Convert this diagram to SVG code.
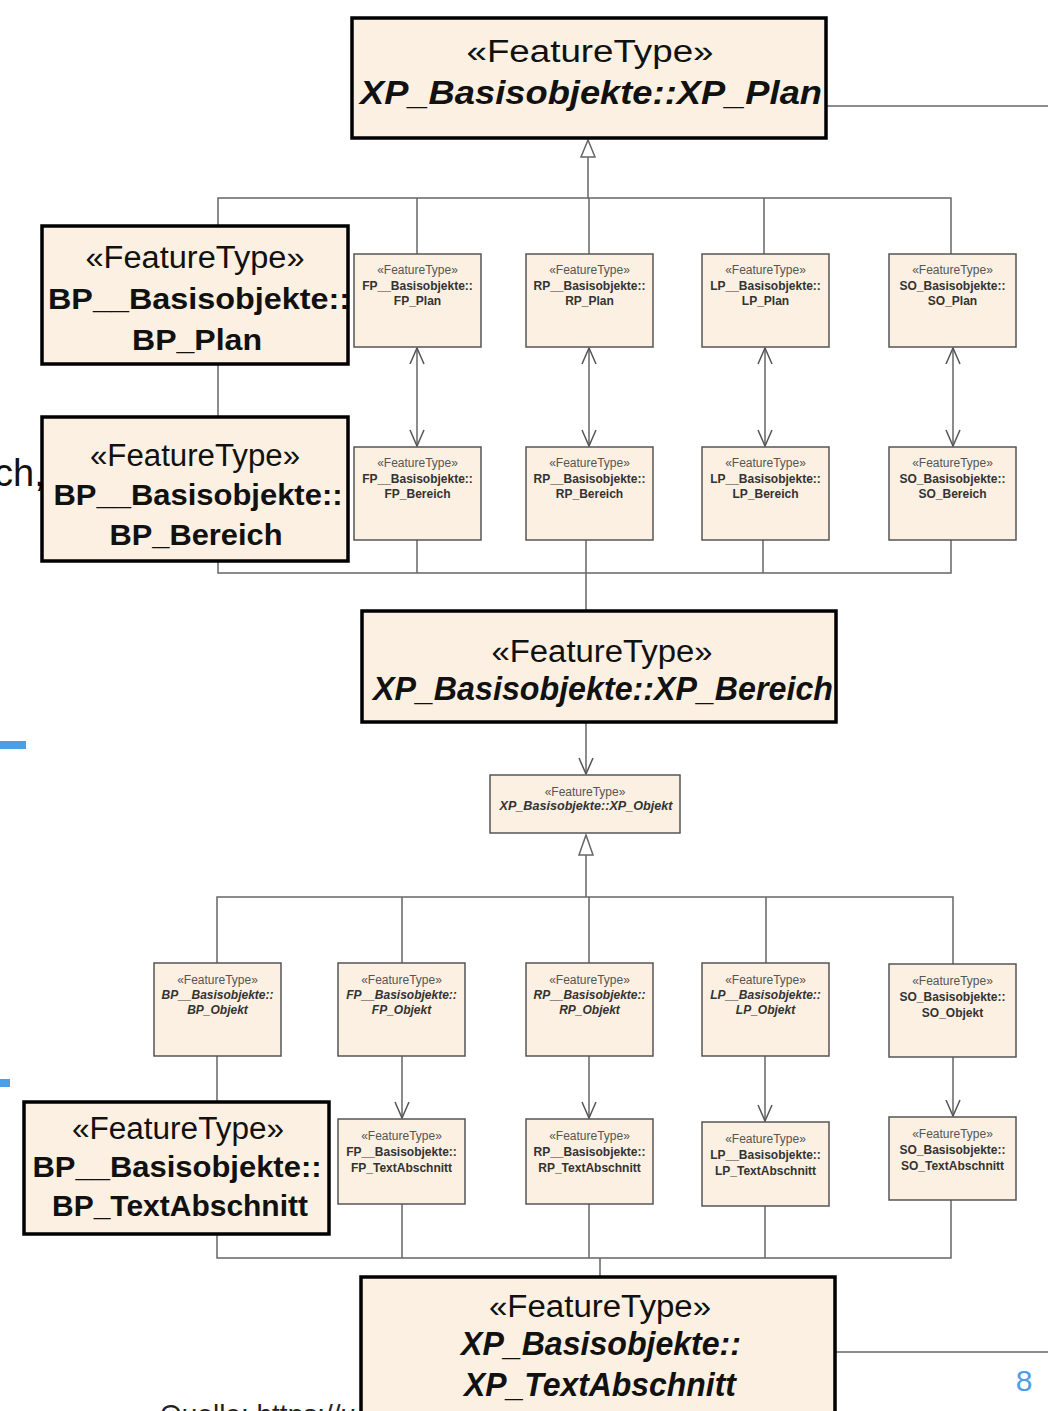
<svg xmlns="http://www.w3.org/2000/svg" width="1048" height="1411" viewBox="0 0 1048 1411">
<style>
.big{fill:#FBF0E1;stroke:#000;stroke-width:3.5}
.sm{fill:#FBF0E1;stroke:#555;stroke-width:1.5}
.st{font-family:"Liberation Sans",Arial,sans-serif;font-size:12px;fill:#555;text-anchor:middle}
.nm{font-family:"Liberation Sans",Arial,sans-serif;font-size:12px;font-weight:bold;fill:#333;text-anchor:middle}
.it{font-style:italic}
.bst{font-family:"Liberation Sans",Arial,sans-serif;font-size:31px;fill:#111;text-anchor:middle}
.bnm{font-family:"Liberation Sans",Arial,sans-serif;font-size:30px;font-weight:bold;fill:#111;text-anchor:middle}
.bit{font-style:italic;font-size:33px}
.ln{fill:none;stroke:#666;stroke-width:1.5}
.arr{fill:none;stroke:#666;stroke-width:1.5;marker-end:url(#open)}
.arr2{fill:none;stroke:#666;stroke-width:1.5;marker-end:url(#open);marker-start:url(#open)}
.tri{fill:#fff;stroke:#666;stroke-width:1.5}
</style>
<defs>
<marker id="open" viewBox="0 0 18 16" refX="17" refY="8" markerWidth="18" markerHeight="16" markerUnits="userSpaceOnUse" orient="auto-start-reverse">
<path d="M1,1 L17,8 L1,15" fill="none" stroke="#555" stroke-width="1.5"/>
</marker>
</defs>
<rect width="1048" height="1411" fill="#fff"/>

<!-- background slide elements -->
<text x="-6" y="486" font-family="Liberation Sans,Arial,sans-serif" font-size="38" fill="#111">ch,</text>
<rect x="0" y="741" width="26" height="8" fill="#4A9FE8"/>
<rect x="0" y="1079" width="10" height="8" fill="#4A9FE8"/>
<text x="160" y="1424" font-family="Liberation Sans,Arial,sans-serif" font-size="28" fill="#222">Quelle: https://u</text>
<text x="1024" y="1391" font-family="Liberation Sans,Arial,sans-serif" font-size="30" fill="#4A9FE8" text-anchor="middle">8</text>

<g id="connectors">
<line class="ln" x1="826" y1="106" x2="1048" y2="106"/>
<line class="ln" x1="835" y1="1352" x2="1048" y2="1352"/>
<!-- generalization to XP_Plan -->
<polyline class="ln" points="588,157 588,198"/>
<polyline class="ln" points="218,226 218,198 951,198 951,254"/>
<line class="ln" x1="417" y1="198" x2="417" y2="254"/>
<line class="ln" x1="589" y1="198" x2="589" y2="254"/>
<line class="ln" x1="764" y1="198" x2="764" y2="254"/>
<polygon class="tri" points="588,140 581,157 595,157"/>
<!-- plan <-> bereich -->
<line class="arr2" x1="417" y1="348" x2="417" y2="446"/>
<line class="arr2" x1="589" y1="348" x2="589" y2="446"/>
<line class="arr2" x1="765" y1="348" x2="765" y2="446"/>
<line class="arr2" x1="953" y1="348" x2="953" y2="446"/>
<line class="ln" x1="218" y1="364" x2="218" y2="417"/>
<!-- bereich to XP_Bereich -->
<polyline class="ln" points="218,561 218,573 951,573 951,540"/>
<line class="ln" x1="417" y1="540" x2="417" y2="573"/>
<line class="ln" x1="586" y1="540" x2="586" y2="611"/>
<line class="ln" x1="763" y1="540" x2="763" y2="573"/>
<!-- XP_Bereich to XP_Objekt -->
<line class="arr" x1="586" y1="722" x2="586" y2="774"/>
<!-- generalization to XP_Objekt -->
<line class="ln" x1="586" y1="855" x2="586" y2="897"/>
<polyline class="ln" points="217,963 217,897 953,897 953,964"/>
<line class="ln" x1="402" y1="897" x2="402" y2="963"/>
<line class="ln" x1="589" y1="897" x2="589" y2="963"/>
<line class="ln" x1="766" y1="897" x2="766" y2="963"/>
<polygon class="tri" points="586,835 579,855 593,855"/>
<!-- objekt to textabschnitt -->
<line class="ln" x1="217" y1="1056" x2="217" y2="1102"/>
<line class="arr" x1="402" y1="1056" x2="402" y2="1118"/>
<line class="arr" x1="589" y1="1056" x2="589" y2="1118"/>
<line class="arr" x1="765" y1="1056" x2="765" y2="1121"/>
<line class="arr" x1="953" y1="1057" x2="953" y2="1116"/>
<!-- textabschnitt to XP_TextAbschnitt -->
<polyline class="ln" points="217,1234 217,1258 951,1258 951,1200"/>
<line class="ln" x1="402" y1="1204" x2="402" y2="1258"/>
<line class="ln" x1="589" y1="1204" x2="589" y2="1258"/>
<line class="ln" x1="765" y1="1206" x2="765" y2="1258"/>
<line class="ln" x1="600" y1="1258" x2="600" y2="1277"/>
</g>

<g id="XP_Plan">
<rect class="big" x="352" y="18" width="474" height="120"/>
<text class="bst" x="590" y="62" font-size="34" textLength="247" lengthAdjust="spacingAndGlyphs">«FeatureType»</text>
<text class="bnm bit" x="591" y="104" textLength="462" lengthAdjust="spacingAndGlyphs">XP_Basisobjekte::XP_Plan</text>
</g>

<g id="FP_Plan"><rect class="sm" x="354" y="254" width="127" height="93"/>
<text class="st" x="417.5" y="274">«FeatureType»</text><text class="nm" x="417.5" y="290">FP__Basisobjekte::</text><text class="nm" x="417.5" y="305">FP_Plan</text></g>
<g id="RP_Plan"><rect class="sm" x="526" y="254" width="127" height="93"/>
<text class="st" x="589.5" y="274">«FeatureType»</text><text class="nm" x="589.5" y="290">RP__Basisobjekte::</text><text class="nm" x="589.5" y="305">RP_Plan</text></g>
<g id="LP_Plan"><rect class="sm" x="702" y="254" width="127" height="93"/>
<text class="st" x="765.5" y="274">«FeatureType»</text><text class="nm" x="765.5" y="290">LP__Basisobjekte::</text><text class="nm" x="765.5" y="305">LP_Plan</text></g>
<g id="SO_Plan"><rect class="sm" x="889" y="254" width="127" height="93"/>
<text class="st" x="952.5" y="274">«FeatureType»</text><text class="nm" x="952.5" y="290">SO_Basisobjekte::</text><text class="nm" x="952.5" y="305">SO_Plan</text></g>

<g id="FP_Bereich"><rect class="sm" x="354" y="447" width="127" height="93"/>
<text class="st" x="417.5" y="467">«FeatureType»</text><text class="nm" x="417.5" y="483">FP__Basisobjekte::</text><text class="nm" x="417.5" y="498">FP_Bereich</text></g>
<g id="RP_Bereich"><rect class="sm" x="526" y="447" width="127" height="93"/>
<text class="st" x="589.5" y="467">«FeatureType»</text><text class="nm" x="589.5" y="483">RP__Basisobjekte::</text><text class="nm" x="589.5" y="498">RP_Bereich</text></g>
<g id="LP_Bereich"><rect class="sm" x="702" y="447" width="127" height="93"/>
<text class="st" x="765.5" y="467">«FeatureType»</text><text class="nm" x="765.5" y="483">LP__Basisobjekte::</text><text class="nm" x="765.5" y="498">LP_Bereich</text></g>
<g id="SO_Bereich"><rect class="sm" x="889" y="447" width="127" height="93"/>
<text class="st" x="952.5" y="467">«FeatureType»</text><text class="nm" x="952.5" y="483">SO_Basisobjekte::</text><text class="nm" x="952.5" y="498">SO_Bereich</text></g>

<g id="BP_Plan">
<rect class="big" x="42" y="226" width="306" height="138"/>
<text class="bst" x="195" y="268" textLength="219" lengthAdjust="spacingAndGlyphs">«FeatureType»</text>
<text class="bnm" x="48" y="309" style="text-anchor:start" textLength="302" lengthAdjust="spacingAndGlyphs">BP__Basisobjekte::</text>
<text class="bnm" x="197" y="350" textLength="130" lengthAdjust="spacingAndGlyphs">BP_Plan</text>
</g>
<g id="BP_Bereich">
<rect class="big" x="42" y="417" width="306" height="144"/>
<text class="bst" x="195" y="466" textLength="210" lengthAdjust="spacingAndGlyphs">«FeatureType»</text>
<text class="bnm" x="198" y="505" textLength="289" lengthAdjust="spacingAndGlyphs">BP__Basisobjekte::</text>
<text class="bnm" x="196" y="545" textLength="173" lengthAdjust="spacingAndGlyphs">BP_Bereich</text>
</g>

<g id="XP_Bereich">
<rect class="big" x="362" y="611" width="474" height="111"/>
<text class="bst" x="602" y="662" textLength="221" lengthAdjust="spacingAndGlyphs">«FeatureType»</text>
<text class="bnm bit" x="603" y="700" textLength="460" lengthAdjust="spacingAndGlyphs">XP_Basisobjekte::XP_Bereich</text>
</g>

<g id="XP_Objekt"><rect class="sm" x="490" y="775" width="190" height="58"/>
<text class="st" x="585" y="796">«FeatureType»</text><text class="nm it" x="586" y="810" textLength="173" lengthAdjust="spacingAndGlyphs">XP_Basisobjekte::XP_Objekt</text></g>

<g id="BP_Objekt"><rect class="sm" x="154" y="963" width="127" height="93"/>
<text class="st" x="217.5" y="984">«FeatureType»</text><text class="nm it" x="217.5" y="999">BP__Basisobjekte::</text><text class="nm it" x="217.5" y="1014">BP_Objekt</text></g>
<g id="FP_Objekt"><rect class="sm" x="338" y="963" width="127" height="93"/>
<text class="st" x="401.5" y="984">«FeatureType»</text><text class="nm it" x="401.5" y="999">FP__Basisobjekte::</text><text class="nm it" x="401.5" y="1014">FP_Objekt</text></g>
<g id="RP_Objekt"><rect class="sm" x="526" y="963" width="127" height="93"/>
<text class="st" x="589.5" y="984">«FeatureType»</text><text class="nm it" x="589.5" y="999">RP__Basisobjekte::</text><text class="nm it" x="589.5" y="1014">RP_Objekt</text></g>
<g id="LP_Objekt"><rect class="sm" x="702" y="963" width="127" height="93"/>
<text class="st" x="765.5" y="984">«FeatureType»</text><text class="nm it" x="765.5" y="999">LP__Basisobjekte::</text><text class="nm it" x="765.5" y="1014">LP_Objekt</text></g>
<g id="SO_Objekt"><rect class="sm" x="889" y="964" width="127" height="93"/>
<text class="st" x="952.5" y="985">«FeatureType»</text><text class="nm" x="952.5" y="1001">SO_Basisobjekte::</text><text class="nm" x="952.5" y="1017">SO_Objekt</text></g>

<g id="FP_TextAbschnitt"><rect class="sm" x="338" y="1119" width="127" height="85"/>
<text class="st" x="401.5" y="1140">«FeatureType»</text><text class="nm" x="401.5" y="1156">FP__Basisobjekte::</text><text class="nm" x="401.5" y="1172">FP_TextAbschnitt</text></g>
<g id="RP_TextAbschnitt"><rect class="sm" x="526" y="1119" width="127" height="85"/>
<text class="st" x="589.5" y="1140">«FeatureType»</text><text class="nm" x="589.5" y="1156">RP__Basisobjekte::</text><text class="nm" x="589.5" y="1172">RP_TextAbschnitt</text></g>
<g id="LP_TextAbschnitt"><rect class="sm" x="702" y="1122" width="127" height="84"/>
<text class="st" x="765.5" y="1143">«FeatureType»</text><text class="nm" x="765.5" y="1159">LP__Basisobjekte::</text><text class="nm" x="765.5" y="1175">LP_TextAbschnitt</text></g>
<g id="SO_TextAbschnitt"><rect class="sm" x="889" y="1117" width="127" height="83"/>
<text class="st" x="952.5" y="1138">«FeatureType»</text><text class="nm" x="952.5" y="1154">SO_Basisobjekte::</text><text class="nm" x="952.5" y="1170">SO_TextAbschnitt</text></g>

<g id="BP_TextAbschnitt">
<rect class="big" x="24" y="1102" width="305" height="132"/>
<text class="bst" x="178" y="1139" textLength="212" lengthAdjust="spacingAndGlyphs">«FeatureType»</text>
<text class="bnm" x="177" y="1177" textLength="289" lengthAdjust="spacingAndGlyphs">BP__Basisobjekte::</text>
<text class="bnm" x="180" y="1216" textLength="256" lengthAdjust="spacingAndGlyphs">BP_TextAbschnitt</text>
</g>

<g id="XP_TextAbschnitt">
<rect class="big" x="361" y="1277" width="474" height="140"/>
<text class="bst" x="600" y="1317" textLength="222" lengthAdjust="spacingAndGlyphs">«FeatureType»</text>
<text class="bnm bit" x="601" y="1355" textLength="280" lengthAdjust="spacingAndGlyphs">XP_Basisobjekte::</text>
<text class="bnm bit" x="600" y="1396" textLength="272" lengthAdjust="spacingAndGlyphs">XP_TextAbschnitt</text>
</g>
</svg>
